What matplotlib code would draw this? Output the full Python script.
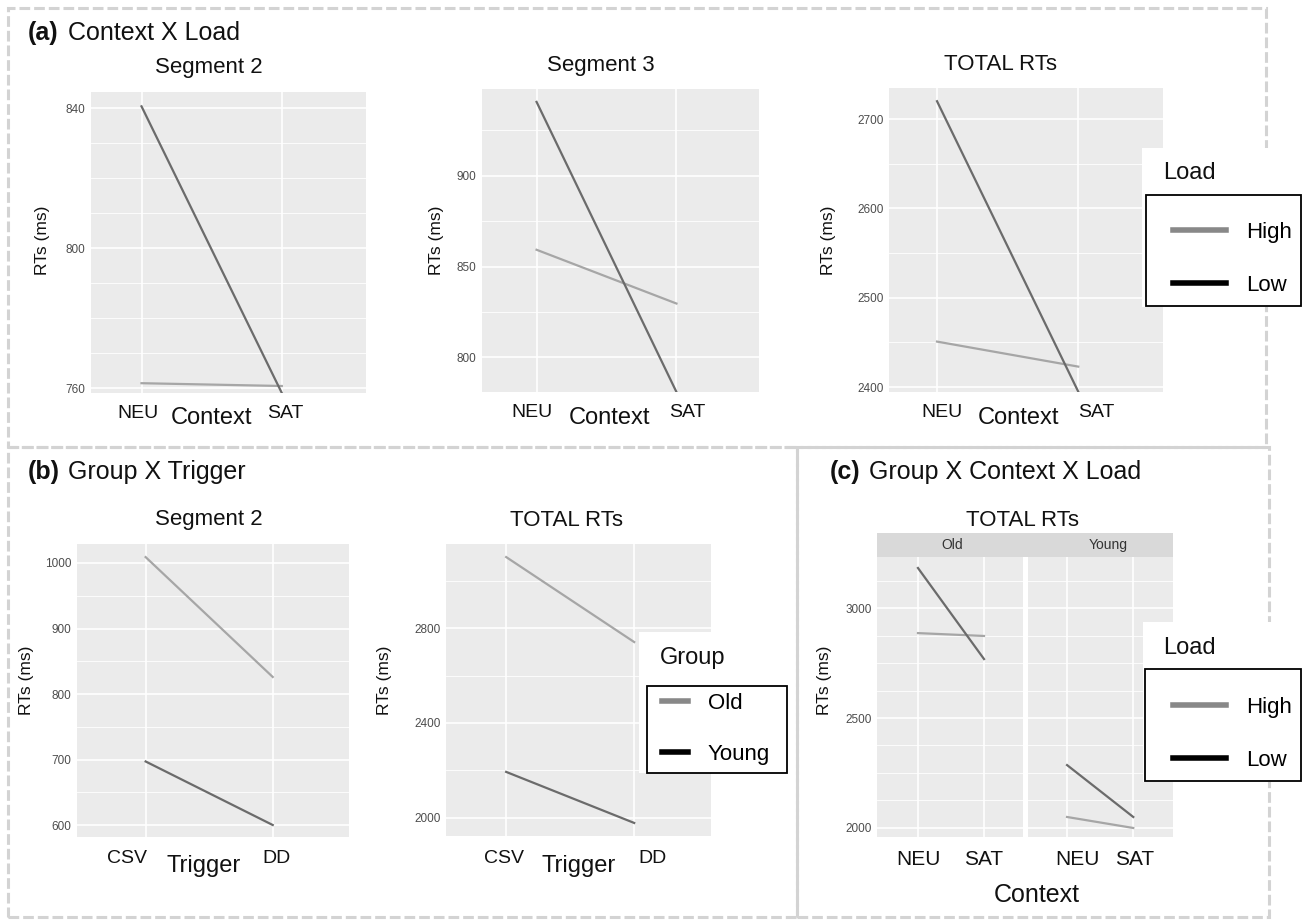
import numpy as np
import matplotlib.pyplot as plt
from matplotlib.ticker import MultipleLocator
from matplotlib.patches import Rectangle
from matplotlib.lines import Line2D
from matplotlib.transforms import blended_transform_factory, ScaledTranslation

plt.rcParams['font.family'] = ['Liberation Sans', 'DejaVu Sans']

# data (RTs in ms)
context = ['NEU', 'SAT']
trigger = ['CSV', 'DD']

a_seg2_high = [761.4, 760.6]
a_seg2_low = [840.5, 758.6]
a_seg3_high = [859.3, 829.7]
a_seg3_low = [940.7, 781.0]
a_total_high = [2451, 2423]
a_total_low = [2720, 2395]

b_seg2_old = [1009, 826]
b_seg2_young = [697, 600]
b_total_old = [3099, 2741]
b_total_young = [2194, 1979]

c_old_high = [2886, 2873]
c_old_low = [3182, 2768]
c_young_high = [2050, 2000]
c_young_low = [2286, 2050]

C_LIGHT = '#a6a6a6'
C_DARK = '#6b6b6b'
TXT = '#111111'

W, H = 1304, 922
fig = plt.figure(figsize=(W / 100, H / 100), dpi=100)


def fx(x):
    return x / W


def fy(y):
    return 1 - y / H


def add_ax(x0, y0, x1, y1):
    return fig.add_axes([x0 / W, 1 - y1 / H, (x1 - x0) / W, (y1 - y0) / H])


def style(ax, cats, xlim, ylim, major, minor, xsize=14, shifts=(0, 0), drop=12):
    ax.set_facecolor('#ebebeb')
    for s in ax.spines.values():
        s.set_visible(False)
    ax.set_xticks(range(len(cats)))
    ax.set_xticklabels([])
    ax.set_xlim(*xlim)
    ax.set_ylim(*ylim)
    ax.yaxis.set_major_locator(MultipleLocator(major))
    ax.yaxis.set_minor_locator(MultipleLocator(minor))
    ax.tick_params(axis='y', which='both', length=0, labelsize=8.5, labelcolor='#4d4d4d', pad=4)
    ax.tick_params(axis='x', length=0)
    ax.grid(True, which='major', color='white', lw=1.2)
    ax.grid(True, which='minor', axis='y', color='white', lw=0.6)
    ax.set_axisbelow(True)
    # category labels (pasted slightly off the gridlines in the original)
    base = blended_transform_factory(ax.transData, ax.transAxes)
    for i, (c, dx) in enumerate(zip(cats, shifts)):
        tr = base + ScaledTranslation(dx / 100, -drop / 100, fig.dpi_scale_trans)
        ax.text(i, 0, c, transform=tr, ha='center', va='top', fontsize=xsize, color=TXT)


def frame(x0, y0, x1, y1):
    fig.patches.append(Rectangle((fx(x0), fy(y1)), (x1 - x0) / W, (y1 - y0) / H,
                                 transform=fig.transFigure, fill=False, ec='#d3d3d3',
                                 lw=2.2, ls=(0, (3.5, 1.3)), zorder=2))


def legend(labels, colors, box, back, title, tx, ty, hx, htop, hl, lspace):
    for (x0, y0, x1, y1), ec in ((back, 'none'), (box, 'black')):
        fig.patches.append(Rectangle((fx(x0), fy(y1)), (x1 - x0) / W, (y1 - y0) / H,
                                     transform=fig.transFigure, fc='white', ec=ec,
                                     lw=1.3, zorder=5))
    handles = [Line2D([], [], color=c, lw=4) for c in colors]
    leg = fig.legend(handles, labels, loc='upper left', bbox_to_anchor=(fx(hx), fy(htop)),
                     borderaxespad=0, borderpad=0, fontsize=16, frameon=False,
                     handlelength=hl, handletextpad=0.9, labelspacing=lspace)
    leg.set_zorder(6)
    fig.text(fx(tx), fy(ty), title, fontsize=17, color=TXT, va='center', ha='left', zorder=7)


def panel_label(x, y, tag, rest, xr):
    fig.text(fx(x), fy(y), tag, fontsize=18, fontweight='bold', color=TXT, va='center')
    fig.text(fx(xr), fy(y), rest, fontsize=18, color=TXT, va='center')


def ylab(x, y, size=12.5):
    fig.text(fx(x), fy(y), 'RTs (ms)', fontsize=size, rotation=90, ha='center', va='center', color=TXT)


def centered(x, y, s, size):
    fig.text(fx(x), fy(y), s, fontsize=size, ha='center', va='center', color=TXT)


# dashed frames
frame(8, 8, 1266, 447)
frame(8, 447, 797, 917)
frame(797, 447, 1269, 917)

# ---- (a) Context X Load
panel_label(28, 33, '(a)', 'Context X Load', 68)

ax = add_ax(91, 92, 366, 393)
style(ax, context, (-0.36, 1.6), (758.6, 844.6), 40, 10, shifts=(-4, 3))
ax.plot(range(2), a_seg2_high, color=C_LIGHT, lw=1.6)
ax.plot(range(2), a_seg2_low, color=C_DARK, lw=1.6)
centered(209, 68, 'Segment 2', 16)
ylab(42, 240)
centered(211, 418, 'Context', 17)

ax = add_ax(482, 89, 759, 392)
style(ax, context, (-0.39, 1.59), (781.0, 947.8), 50, 25, shifts=(-5, 11))
ax.plot(range(2), a_seg3_high, color=C_LIGHT, lw=1.6)
ax.plot(range(2), a_seg3_low, color=C_DARK, lw=1.6)
centered(601, 65, 'Segment 3', 16)
ylab(437, 240)
centered(610, 418, 'Context', 17)

ax = add_ax(889, 88, 1163, 392)
style(ax, context, (-0.34, 1.6), (2394.6, 2734.8), 100, 50, shifts=(5, 18))
ax.plot(range(2), a_total_high, color=C_LIGHT, lw=1.6)
ax.plot(range(2), a_total_low, color=C_DARK, lw=1.6)
centered(1001, 65, 'TOTAL RTs', 16)
ylab(828, 240)
centered(1018, 418, 'Context', 17)

legend(['High', 'Low'], ['#888888', 'black'], (1146, 195, 1301, 306), (1142, 148, 1304, 307),
       'Load', 1163, 173, 1173, 222, 2.4, 1.42)

# ---- (b) Group X Trigger
panel_label(28, 472, '(b)', 'Group X Trigger', 68)

ax = add_ax(77, 544, 349, 837)
style(ax, trigger, (-0.54, 1.6), (581.7, 1029), 100, 50, shifts=(-19, 4), drop=13)
ax.plot(range(2), b_seg2_old, color=C_LIGHT, lw=1.6)
ax.plot(range(2), b_seg2_young, color=C_DARK, lw=1.6)
centered(209, 520, 'Segment 2', 16)
ylab(27, 680)
centered(204, 866, 'Trigger', 17)

ax = add_ax(446, 544, 711, 836)
style(ax, trigger, (-0.47, 1.6), (1924, 3154), 400, 200, shifts=(-2, 18), drop=14)
ax.plot(range(2), b_total_old, color=C_LIGHT, lw=1.6)
ax.plot(range(2), b_total_young, color=C_DARK, lw=1.6)
centered(566, 520, 'TOTAL RTs', 16)
ylab(384, 680)
centered(579, 866, 'Trigger', 17)

legend(['Old', 'Young'], ['#888888', 'black'], (647, 686, 787, 773), (639, 632, 790, 773),
       'Group', 660, 658, 662, 693, 1.17, 1.33)

# ---- (c) Group X Context X Load
panel_label(830, 472, '(c)', 'Group X Context X Load', 869)
centered(1022, 520, 'TOTAL RTs', 16)

c_ylim = (1959, 3232)
ax_old = add_ax(877, 557, 1023, 837)
style(ax_old, context, (-0.62, 1.59), c_ylim, 500, 125, xsize=15, drop=13)
ax_old.plot(range(2), c_old_high, color=C_LIGHT, lw=1.6)
ax_old.plot(range(2), c_old_low, color=C_DARK, lw=1.6)

ax_young = add_ax(1028, 557, 1173, 837)
style(ax_young, context, (-0.59, 1.6), c_ylim, 500, 125, xsize=15, shifts=(10, 1), drop=13)
ax_young.plot(range(2), c_young_high, color=C_LIGHT, lw=1.6)
ax_young.plot(range(2), c_young_low, color=C_DARK, lw=1.6)
ax_young.tick_params(axis='y', labelleft=False)

strip = add_ax(877, 533, 1173, 557)
strip.set_facecolor('#d9d9d9')
strip.set_xticks([])
strip.set_yticks([])
for s in strip.spines.values():
    s.set_visible(False)
strip.text((952 - 877) / 296, 0.5, 'Old', fontsize=10, ha='center', va='center', color='#333333')
strip.text((1108 - 877) / 296, 0.5, 'Young', fontsize=10, ha='center', va='center', color='#333333')

ylab(824, 680)
centered(1037, 895, 'Context', 18)

legend(['High', 'Low'], ['#888888', 'black'], (1145, 669, 1301, 781), (1143, 622, 1304, 782),
       'Load', 1163, 648, 1173, 697, 2.4, 1.42)

fig.savefig('out.png', dpi=100, facecolor='white')
